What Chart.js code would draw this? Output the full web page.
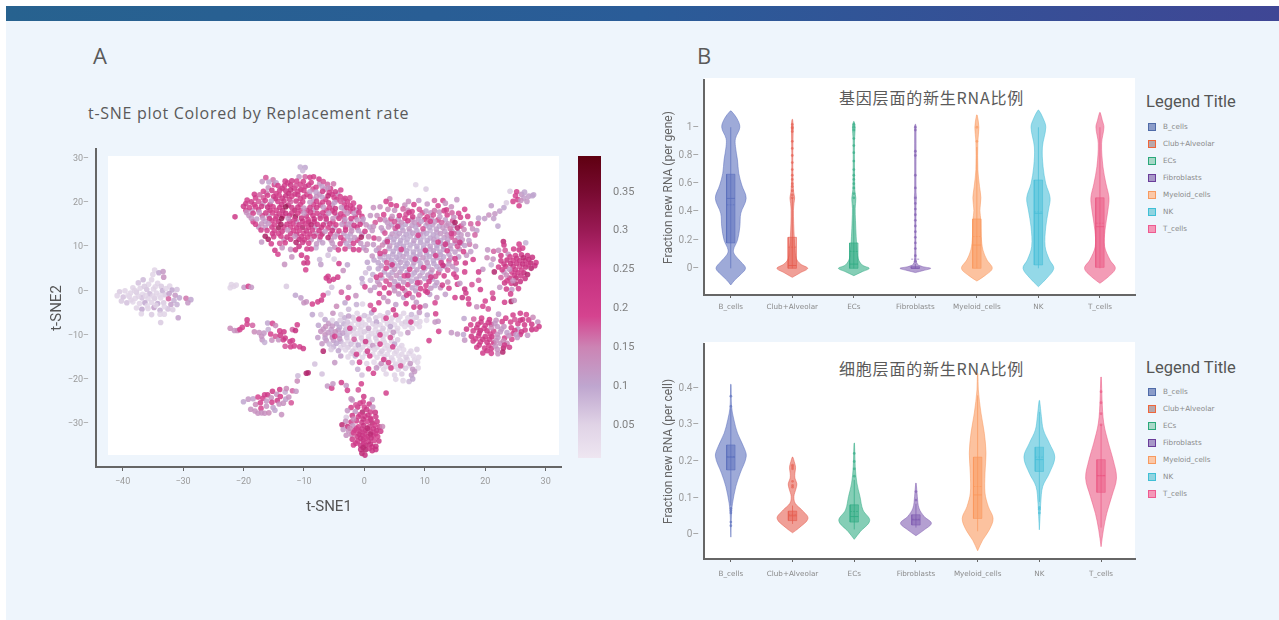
<!DOCTYPE html>
<html>
<head>
<meta charset="utf-8">
<title>Replacement rate</title>
<script src="https://cdn.jsdelivr.net/npm/chart.js@4/dist/chart.umd.min.js"></script>
<style>
    html, body { margin: 0; padding: 0; background: #fff; }
    #page { position: relative; width: 1279px; height: 620px; overflow: hidden; font-family: "Open Sans", sans-serif; }
    #panel { position: absolute; left: 6px; top: 21px; width: 1273px; height: 599px; background: #eef5fc; }
    #topbar { position: absolute; left: 6px; top: 6px; width: 1273px; height: 15px; background: linear-gradient(90deg, #27628f, #2a5c98 50%, #3f4695); }
    .white { position: absolute; background: #fff; }
    .label { position: absolute; white-space: nowrap; color: #5a5a5a; }
    canvas { position: absolute; }
    .legend-title { font: 16.5px "Roboto", sans-serif; color: #555; }
    .legend-box { position: absolute; width: 6px; height: 6px; border-width: 1px; border-style: solid; }
    .legend-text { font: 7.2px "DejaVu Sans", sans-serif; color: #8a8a8a; }
</style>
</head>
<body>
<div id="page">
    <div id="topbar"></div>
    <div id="panel"></div>
    <div class="white" style="left:108px;top:156px;width:451px;height:299px"></div>
    <div class="white" style="left:704px;top:78px;width:431px;height:217px"></div>
    <div class="white" style="left:704px;top:342px;width:431px;height:217px"></div>

    <div class="label" style="left:93px;top:40px;font-size:22px">A</div>
    <div class="label" style="left:697px;top:40px;font-size:22px">B</div>
    <div class="label" style="left:88px;top:102px;font-size:16px;letter-spacing:.7px">t-SNE plot Colored by Replacement rate</div>
    <div class="label" style="left:839px;top:85px;font:16px 'Noto Sans CJK SC',sans-serif;letter-spacing:.8px">基因层面的新生RNA比例</div>
    <div class="label" style="left:839px;top:356px;font:16px 'Noto Sans CJK SC',sans-serif;letter-spacing:.8px">细胞层面的新生RNA比例</div>

    <canvas id="scatter" width="514" height="376" style="left:48px;top:140px"></canvas>
    <canvas id="colorbar" width="70" height="302" style="left:578px;top:156px"></canvas>
    <canvas id="geneViolin" width="474" height="240" style="left:662px;top:72px"></canvas>
    <canvas id="cellViolin" width="474" height="243" style="left:662px;top:338px"></canvas>
</div>

<script>
// ---- panel B data ----
const categories = ['B_cells', 'Club+Alveolar', 'ECs', 'Fibroblasts', 'Myeloid_cells', 'NK', 'T_cells'];
const violinRgb = ['88,108,188', '230,90,75', '45,170,130', '125,90,175', '250,150,90', '70,190,215', '235,85,130'];
const legendStroke = ['#4f6ba8', '#f0653a', '#2aa87a', '#6a3d9a', '#f79a60', '#3fbfd6', '#ee5a90'];
const legendFill = ['#8b9cc9', '#b8a8ac', '#a8d8c8', '#a898c8', '#fbc8a8', '#90d4e0', '#f498b8'];

// per gene
const geneViolinY = [
    [-0.118, -0.083, -0.047, 0, 0.047, 0.095, 0.13, 0.2, 0.295, 0.39, 0.496, 0.59, 0.674, 0.768, 0.863, 0.92, 1.0, 1.064, 1.115],
    [-0.064, -0.03, 0, 0.03, 0.07, 0.15, 0.21, 0.32, 0.41, 0.46, 0.5, 0.54, 0.63, 0.82, 1.0, 1.055],
    [-0.052, -0.024, 0, 0.024, 0.07, 0.155, 0.225, 0.34, 0.425, 0.496, 0.555, 0.7, 0.91, 1.0, 1.04],
    [-0.03, -0.015, 0, 0.012, 0.03, 0.08, 0.46, 0.5, 0.54, 1.0, 1.02],
    [-0.09, -0.05, 0, 0.06, 0.13, 0.225, 0.34, 0.41, 0.5, 0.58, 0.7, 0.9, 1.0, 1.087],
    [-0.13, -0.07, 0, 0.06, 0.155, 0.295, 0.414, 0.5, 0.6, 0.72, 0.86, 1.0, 1.064, 1.12],
    [-0.106, -0.06, 0, 0.06, 0.155, 0.27, 0.414, 0.5, 0.6, 0.72, 0.886, 1.0, 1.05, 1.104]
];
const geneViolinW = [
    [0, 0.065, 0.152, 0.24, 0.163, 0.065, 0.043, 0.109, 0.147, 0.163, 0.25, 0.179, 0.13, 0.109, 0.076, 0.076, 0.147, 0.098, 0.008],
    [0, 0.136, 0.25, 0.136, 0.065, 0.043, 0.033, 0.022, 0.019, 0.027, 0.038, 0.022, 0.011, 0.008, 0.014, 0.005],
    [0, 0.136, 0.25, 0.136, 0.071, 0.049, 0.038, 0.027, 0.022, 0.033, 0.016, 0.011, 0.011, 0.022, 0.005],
    [0, 0.136, 0.25, 0.12, 0.033, 0.011, 0.011, 0.016, 0.011, 0.011, 0.005],
    [0, 0.136, 0.25, 0.163, 0.098, 0.071, 0.065, 0.049, 0.065, 0.043, 0.016, 0.016, 0.033, 0.005],
    [0, 0.136, 0.25, 0.179, 0.109, 0.12, 0.163, 0.19, 0.12, 0.076, 0.065, 0.12, 0.076, 0.008],
    [0, 0.136, 0.25, 0.163, 0.076, 0.082, 0.13, 0.147, 0.098, 0.049, 0.027, 0.065, 0.038, 0.005]
];
const geneQ1 = [0.18, 0, 0, 0, 0, 0.024, 0.007];
const geneQ3 = [0.667, 0.22, 0.18, 0.012, 0.35, 0.626, 0.5];
const geneMedian = [0.496, 0.02, 0.03, 0, 0.165, 0.39, 0.295];
const geneMean = [0.45, 0.15, 0.12, 0.065, 0.225, 0.4, 0.32];
const geneWhiskerLow = [0, 0, 0, 0, 0, 0, 0];
const geneWhiskerHigh = [1, 0.5, 0.45, 0.03, 0.86, 1, 1];
const geneOutliers = [
    [],
    [0.5, 0.52, 0.55, 0.58, 0.6, 0.63, 0.66, 0.7, 0.75, 0.8, 0.85, 0.9, 0.97, 0.99, 1, 1.02],
    [0.5, 0.53, 0.57, 0.6, 0.63, 0.66, 0.7, 0.76, 0.82, 0.87, 0.92, 0.98, 1, 1.02],
    [0.05, 0.09, 0.14, 0.18, 0.22, 0.26, 0.3, 0.34, 0.38, 0.42, 0.46, 0.5, 0.57, 0.66, 0.8, 0.83, 0.98, 1],
    [0.9, 1],
    [],
    []
];

// per cell
const cellViolinY = [
    [-0.006, 0.06, 0.086, 0.132, 0.168, 0.214, 0.241, 0.277, 0.314, 0.35, 0.41],
    [0.006, 0.018, 0.045, 0.068, 0.086, 0.105, 0.125, 0.139, 0.155, 0.168, 0.184, 0.2, 0.212],
    [-0.012, 0.009, 0.039, 0.068, 0.105, 0.141, 0.186, 0.25],
    [-0.002, 0.014, 0.032, 0.05, 0.073, 0.105, 0.141],
    [-0.043, -0.014, 0.014, 0.045, 0.077, 0.114, 0.168, 0.223, 0.277, 0.332, 0.395, 0.44],
    [0.014, 0.05, 0.086, 0.132, 0.168, 0.212, 0.25, 0.286, 0.323, 0.366],
    [-0.032, 0.014, 0.059, 0.105, 0.155, 0.205, 0.25, 0.305, 0.368, 0.43]
];
const cellViolinW = [
    [0, 0.011, 0.027, 0.081, 0.151, 0.25, 0.205, 0.108, 0.049, 0.011, 0.004],
    [0, 0.097, 0.25, 0.151, 0.043, 0.022, 0.054, 0.07, 0.038, 0.038, 0.049, 0.027, 0.004],
    [0, 0.097, 0.25, 0.141, 0.092, 0.043, 0.016, 0.004],
    [0, 0.135, 0.25, 0.135, 0.049, 0.022, 0.004],
    [0, 0.081, 0.189, 0.25, 0.173, 0.119, 0.119, 0.135, 0.108, 0.054, 0.011, 0.004],
    [0, 0.011, 0.022, 0.054, 0.162, 0.25, 0.162, 0.065, 0.032, 0.004],
    [0, 0.038, 0.092, 0.173, 0.25, 0.195, 0.119, 0.043, 0.016, 0.004]
];
const cellQ1 = [0.177, 0.039, 0.035, 0.027, 0.045, 0.173, 0.116];
const cellQ3 = [0.245, 0.065, 0.082, 0.055, 0.212, 0.239, 0.205];
const cellMedian = [0.212, 0.052, 0.05, 0.041, 0.109, 0.205, 0.161];
const cellMean = [0.213, 0.055, 0.064, 0.043, 0.132, 0.212, 0.162];
const cellWhiskerLow = [0.08, 0.03, 0.015, 0.02, 0.01, 0.09, 0.02];
const cellWhiskerHigh = [0.345, 0.08, 0.15, 0.085, 0.38, 0.335, 0.3];
const cellOutliers = [
    [0.025, 0.035, 0.06, 0.066, 0.072, 0.35, 0.378],
    [0.13, 0.135, 0.146, 0.18, 0.185, 0.19],
    [0.16, 0.18, 0.2, 0.222],
    [0.095, 0.118],
    [],
    [0.06, 0.07, 0.075],
    [0.3, 0.33, 0.36, 0.39]
];

// ---- panel A colour scale ----
const colorStops = [0.0075, 0.05, 0.1, 0.15, 0.19, 0.25, 0.3, 0.35, 0.396];
const colorValues = ['#eee6f1', '#e0d3e6', '#bfa6cf', '#cc84b4', '#d5438f', '#c42f7e', '#9a1a55', '#780a30', '#5f0011'];
const colorbarTop = 0.396;
const colorbarBottom = 0.0075;

// ---- panel A points, [t-SNE1, t-SNE2, rate], read cluster by cluster ----
const leftCluster = [[-34.7,4.8,.05],[-34,4.2,.1],[-33.3,4.5,.12],[-35,3.8,.05],[-33.2,3.2,.13],[-36.6,2.6,.08],[-37.4,1.9,.07],[-35.7,1.6,.05],[-34.2,1.8,.05],[-33.6,1.1,.06],[-32.2,1.2,.05],[-38.3,.8,.05],[-37.1,.7,.05],[-36,.4,.07],[-34.9,.5,.05],[-33.4,.1,.09],[-31.8,.3,.1],[-31,.4,.07],[-40.5,-.1,.06],[-39.6,.1,.05],[-38.7,-.4,.05],[-37.7,-.2,.06],[-36.7,-.7,.04],[-35.5,-.6,.08],[-34.4,-.4,.05],[-33,-.8,.06],[-32.3,-.5,.11],[-31.3,-.9,.12],[-29.5,-1.6,.16],[-28.7,-1.9,.1],[-29.2,-2.6,.12],[-40.9,-1,.05],[-39.9,-1.3,.07],[-38.9,-1.2,.05],[-37.9,-1.6,.05],[-36.8,-1.5,.07],[-35.8,-1.7,.05],[-34.7,-1.6,.06],[-33.7,-1.5,.05],[-32.4,-1.7,.17],[-31.5,-2.1,.09],[-30.6,-1.5,.1],[-40.2,-2.2,.06],[-39.3,-2.6,.07],[-38.3,-2.4,.04],[-37.2,-2.8,.05],[-36.3,-2.6,.1],[-35.2,-2.5,.05],[-34.2,-2.8,.1],[-33.2,-2.6,.06],[-32,-3,.11],[-31,-3,.09],[-37.7,-3.8,.05],[-36.8,-4.1,.1],[-35.8,-3.9,.05],[-34.8,-3.7,.11],[-33.8,-4.3,.09],[-32.5,-4,.07],[-31.7,-4.2,.06],[-36.9,-5.1,.05],[-35.2,-5.3,.06],[-33.8,-5.2,.05],[-33.1,-5.2,.05],[-30.8,-6,.11],[-33.7,-7.1,.06],[-38,.2,.05],[-36.2,-1,.05],[-35,-1.1,.05],[-33.9,-.9,.04],[-37.4,-1.1,.05],[-38.6,-2,.05],[-35.9,-3.3,.04],[-34.5,-3.2,.05],[-33.1,-3.5,.05],[-36.4,1.1,.06],[-32.8,.6,.05],[-39.1,-.9,.04],[-35.2,2.6,.05],[-34.6,1,.05]];

const topCluster = [[-10.6,28.2,.09],[-9.8,28.1,.1],[-10.2,27.4,.08],[-10.8,26,.12],[-9.8,26,.17],[-9,25.9,.2],[-8.4,26,.2],[-7.5,25.5,.21],[-16.3,25.8,.18],[-15.1,25.3,.16],[-14.6,24.6,.11],[-16.9,24.9,.12],[-15.8,24.8,.1],[-13.1,25,.21],[-12,25.1,.22],[-11.2,25,.2],[-10.1,24.9,.2],[-8.8,24.7,.2],[-6.8,24.9,.18],[-6.1,24.3,.17],[-5.1,24.4,.16],[-14.3,24,.2],[-13.2,24,.21],[-12.2,24.1,.23],[-11.3,24,.18],[-9.8,23.8,.22],[-8,23.6,.2],[-7,23.8,.11],[-6,23.5,.13],[-15.9,23.5,.13],[-16.7,22.7,.19],[-15.3,22.9,.22],[-14,22.9,.21],[-13,22.8,.23],[-12.2,23,.25],[-11,22.7,.2],[-10,22.9,.2],[-9,22.6,.12],[-8,22.5,.11],[-6.9,22.7,.21],[-5.8,22.4,.2],[-4.8,22.6,.21],[-3.9,23,.19],[-18.2,22,.21],[-17.3,21.9,.17],[-16,21.8,.2],[-15,21.5,.22],[-14.1,21.8,.2],[-13,21.7,.24],[-12,21.6,.2],[-11,21.9,.22],[-10,21.4,.22],[-9,21.5,.2],[-7.9,21.5,.13],[-7,21.4,.11],[-6,21.7,.26],[-5,21.3,.2],[-4,21.5,.19],[-3.2,21.1,.2],[-19.4,20.7,.2],[-18.7,20.3,.22],[-17.5,20.4,.18],[-16.4,20.6,.2],[-15.4,20.5,.12],[-14.3,20.4,.21],[-13.3,20.5,.22],[-12.2,20.3,.17],[-11.3,20.5,.22],[-10.2,20.3,.2],[-9,20.2,.12],[-7.9,20.4,.21],[-6.9,20.2,.2],[-5.9,20.1,.21],[-4.9,20.2,.11],[-3.9,20.4,.18],[-2.8,20.3,.2],[-1.8,20,.19],[-20,19.3,.22],[-19,19,.2],[-18,19.2,.2],[-17,19.3,.22],[-16,19.1,.24],[-15.1,19.2,.2],[-14,19,.23],[-13,19.2,.3],[-12,19,.22],[-11,19.1,.22],[-10,18.9,.13],[-9,19,.21],[-7.9,19,.22],[-6.8,19.1,.12],[-5.8,19,.2],[-4.8,18.8,.24],[-3.8,19,.12],[-2.9,19,.22],[-1.9,18.8,.21],[-.8,19.1,.2],[-21.4,16.9,.22],[-19.5,17.9,.13],[-18.4,17.7,.2],[-17.4,17.9,.12],[-16.3,17.8,.22],[-15.2,17.8,.2],[-14.1,17.6,.22],[-13,17.7,.24],[-12,17.8,.21],[-11,17.7,.2],[-10,17.7,.12],[-8.9,17.9,.22],[-7.8,17.7,.2],[-6.9,17.8,.21],[-5.9,17.7,.12],[-4.9,17.8,.22],[-3.9,17.6,.2],[-2.8,17.7,.13],[-1.7,17.7,.12],[-.9,17.9,.21],[-18.7,16.6,.13],[-17.8,16.4,.11],[-16.8,16.6,.12],[-15.7,16.5,.22],[-14.7,16.4,.2],[-13.7,16.5,.3],[-12.6,16.5,.13],[-11.5,16.4,.22],[-10.4,16.6,.24],[-9.3,16.3,.2],[-8.3,16.4,.24],[-7.3,16.6,.22],[-6.3,16.4,.21],[-5.2,16.5,.13],[-4.2,16.6,.21],[-3.2,16.3,.11],[-2.2,16.5,.2],[-1.2,16.2,.12],[-.2,16.4,.11],[-18,15.2,.2],[-17,15.3,.13],[-15.9,15.4,.12],[-14.9,15.1,.2],[-13.8,15.2,.28],[-12.8,15.2,.22],[-11.8,15.3,.2],[-10.8,15.1,.22],[-9.8,15.3,.2],[-8.8,15.1,.26],[-7.8,15.2,.22],[-6.8,15.1,.23],[-5.7,15.3,.22],[-4.7,15.1,.2],[-3.7,15.2,.12],[-2.7,15.2,.12],[-1.7,15,.22],[-.7,15.2,.22],[.3,15.1,.13],[-17.1,13.9,.21],[-16.1,13.8,.2],[-14.9,13.7,.2],[-13.6,13.6,.22],[-12.7,13.9,.13],[-11.7,13.8,.2],[-10.7,13.8,.2],[-9.6,13.7,.22],[-8.6,13.9,.21],[-7.5,13.8,.22],[-6.5,13.6,.12],[-5.3,13.8,.25],[-4.2,13.7,.2],[-3.1,13.9,.22],[-2.1,13.7,.13],[-1,13.8,.11],[.1,13.6,.21],[1.3,13.8,.12],[-16.4,12.5,.28],[-15.9,11.8,.28],[-15,12.4,.21],[-13.8,12.5,.2],[-12.8,12.3,.22],[-11.5,12.5,.13],[-10.4,12.4,.21],[-9.4,12.3,.2],[-8.3,12.5,.22],[-7.3,12.4,.2],[-6,12.2,.26],[-4.9,12.4,.12],[-3.9,12.2,.2],[-2.8,12.4,.1],[-1.6,12.2,.12],[-.5,12.3,.28],[.7,12.4,.14],[-17,11.2,.12],[-15.4,10.8,.2],[-14,10.9,.18],[-13.1,11,.2],[-11.3,11.1,.27],[-10.2,11.1,.22],[-9.2,10.9,.2],[-7.9,10.8,.12],[-6.9,11,.11],[-5.3,10.9,.12],[-4,10.8,.2],[-3,10.9,.1],[-1.8,10.9,.2],[-.6,10.9,.12],[.5,10.7,.13],[-14.8,9.3,.22],[-14.3,8.4,.19],[-12.2,9.5,.13],[-11.4,9.4,.22],[-9.5,9.6,.2],[-8.8,9.6,.21],[-5.7,9.5,.11],[-4.3,9.4,.2],[-3.2,9.6,.2],[-1.8,9.5,.21],[-.9,9.4,.2],[-12,7.8,.13],[-10.4,8.2,.21],[-9.5,7.6,.21],[-13.2,6.1,.13],[-10,6.4,.22],[-9.4,6.5,.22],[-9.7,4.9,.19],[-7.4,7.2,.08],[-6,8.2,.07],[-5,7.3,.06],[-7.2,6.1,.11],[-4.2,6.3,.21]];

const topFill = [[-14.9,24.2,.2],[-12.7,24.6,.2],[-10.6,24.3,.19],[-9.2,24.1,.22],[-7.4,24.4,.13],[-5.6,23.3,.2],[-13.6,23.4,.24],[-11.6,23.4,.21],[-10.5,23.1,.24],[-8.5,23.2,.18],[-6.5,23.2,.13],[-16.2,22.3,.14],[-14.6,22.2,.2],[-12.5,22.2,.25],[-11.5,22.1,.22],[-9.5,22,.2],[-7.4,22,.13],[-5.3,22,.21],[-4.4,22.1,.13],[-18,21.2,.2],[-16.7,21.2,.18],[-14.7,21,.25],[-13.6,21.1,.22],[-12.4,20.9,.22],[-10.6,21,.2],[-8.4,20.9,.12],[-6.4,20.9,.2],[-4.6,20.8,.22],[-3.4,20.7,.13],[-2.4,21.2,.18],[-19.6,19.9,.22],[-18.2,19.7,.2],[-16.8,19.9,.13],[-15.6,19.7,.22],[-13.7,19.7,.21],[-12.6,19.6,.24],[-10.6,19.7,.2],[-8.4,19.7,.2],[-7.3,19.6,.22],[-5.3,19.6,.13],[-3.3,19.6,.2],[-2.3,19.4,.2],[-19.6,18.4,.21],[-18.6,18.3,.12],[-17.5,18.5,.22],[-15.6,18.4,.23],[-14.6,18.4,.2],[-13.5,18.3,.25],[-11.5,18.4,.26],[-10.5,18.3,.2],[-9.5,18.3,.22],[-8.4,18.5,.13],[-6.3,18.4,.21],[-5.3,18.3,.22],[-3.3,18.3,.13],[-2.3,18.2,.19],[-1.3,18.4,.13],[-19.1,17.2,.13],[-16.9,17.2,.2],[-15.8,17.1,.12],[-14.6,17,.22],[-13.5,17.1,.22],[-12.4,17.2,.24],[-11.4,17,.3],[-9.6,17.1,.22],[-8.5,17.2,.21],[-7.3,17.1,.13],[-6.4,17,.22],[-4.5,17.1,.12],[-3.4,17,.2],[-.4,17,.2],[-1.5,16.9,.22],[-18.4,15.8,.2],[-16.4,15.9,.11],[-15.3,16,.2],[-14.2,15.8,.24],[-12.3,15.9,.22],[-11.2,15.8,.13],[-10.2,15.9,.22],[-9.2,15.7,.26],[-8.3,15.8,.22],[-6.3,15.8,.13],[-5.2,15.8,.2],[-3.3,15.8,.2],[-2.2,15.7,.11],[-.3,15.8,.12],[-17.5,14.6,.13],[-16.4,14.5,.12],[-15.3,14.6,.22],[-14.2,14.4,.29],[-13.3,14.5,.2],[-12.2,14.6,.2],[-11.2,14.4,.22],[-10.2,14.5,.27],[-9.2,14.5,.2],[-8.2,14.6,.12],[-7.1,14.5,.22],[-6,14.4,.2],[-5,14.5,.11],[-3.1,14.6,.2],[-2.1,14.4,.12],[-1.2,14.5,.2],[.9,14.6,.11],[-15.2,13.1,.21],[-14.2,13.1,.2],[-12.2,13.1,.22],[-11.2,13,.24],[-10,13.1,.19],[-9,13,.22],[-8,13.1,.14],[-7,13,.26],[-5.6,13,.2],[-4.5,13,.13],[-3.4,13.1,.12],[-2.3,13,.11],[-.4,13,.12],[-13.3,11.7,.14],[-12.2,11.8,.21],[-10.8,11.8,.25],[-9.9,11.7,.21],[-8.8,11.7,.13],[-7.4,11.7,.11],[-5.5,11.6,.13],[-3.4,11.6,.18],[-2.3,11.6,.11],[-1.1,11.6,.2],[-13.6,9.9,.13],[-10.8,10.2,.24],[-8,9.9,.09],[-4.9,10,.13],[-2.5,10.2,.12],[-.1,9.9,.11]];

const centerCluster = [[8.5,24.2,.05],[10.2,23.2,.06],[4.2,21,.14],[3.6,20.4,.2],[5.3,19.4,.2],[1.5,19,.13],[2.6,19.2,.13],[7.3,20.4,.13],[9,20.6,.11],[11.6,20.6,.17],[13,20.6,.19],[13.4,20,.13],[15.3,20.8,.12],[3.9,18.6,.14],[5,18.4,.13],[6.4,18.7,.17],[7.9,18.1,.19],[9.1,18.6,.18],[10.2,18.2,.12],[11.6,18.3,.16],[12.4,18,.13],[13.2,18.3,.21],[14.5,17.8,.17],[16.6,18.6,.19],[17.1,17,.2],[1,17.2,.12],[2.1,17.2,.13],[3.2,17.4,.19],[4.6,17,.13],[5.8,17.2,.21],[6.9,17.5,.18],[8,16.9,.22],[9.2,17.2,.13],[10.4,16.9,.2],[11.4,17.3,.18],[12.5,16.9,.12],[13.7,17.3,.2],[14.8,16.8,.13],[15.9,16.8,.2],[2.6,16.3,.17],[3.8,15.6,.12],[5,15.8,.18],[6.1,15.6,.13],[7.2,16,.21],[8.3,15.6,.12],[9.4,15.9,.1],[10.5,15.5,.14],[11.6,15.8,.12],[12.8,15.6,.17],[13.9,15.3,.13],[15,15.6,.28],[16.4,15.4,.12],[17.6,15.3,.17],[1.5,14.7,.13],[2.8,14.4,.12],[4,14.6,.12],[5.1,14.3,.17],[6.2,14.5,.1],[7.4,14.2,.12],[8.5,14.6,.1],[9.7,14.2,.18],[10.8,14.5,.1],[11.9,14.1,.11],[13,14.4,.12],[14.2,14.2,.16],[15.4,14.4,.26],[16.5,14,.14],[17.9,14.2,.13],[18.6,13.8,.11],[3.4,13.2,.18],[4.6,13,.12],[5.8,13.1,.11],[6.9,12.9,.1],[8,13.2,.11],[9.2,12.9,.12],[10.3,13.1,.1],[11.4,12.8,.1],[12.6,13.1,.12],[13.7,12.8,.12],[14.8,13.1,.17],[16,12.8,.12],[17.1,12.9,.12],[18.3,12.8,.17],[2.4,11.9,.14],[3.8,11.7,.12],[4.9,11.8,.1],[6,11.5,.1],[7.1,11.8,.09],[8.2,11.5,.11],[9.3,11.7,.09],[10.4,11.5,.1],[11.5,11.8,.11],[12.6,11.5,.1],[13.8,11.7,.11],[15,11.5,.17],[16.2,11.7,.12],[17.3,11.5,.11],[1.5,10.6,.12],[3,10.5,.15],[4.2,10.3,.12],[5.4,10.5,.1],[6.5,10.2,.1],[7.6,10.5,.09],[8.7,10.2,.1],[9.8,10.5,.09],[10.9,10.2,.11],[12,10.4,.1],[13.1,10.2,.12],[14.2,10.4,.12],[15.4,10.2,.18],[16.6,10.4,.11],[18.4,10.2,.12],[.3,9.3,.13],[2,9.3,.11],[3.4,9,.18],[4.8,9.1,.1],[5.9,8.9,.09],[7,9.2,.1],[8.1,8.9,.1],[9.2,9.1,.09],[10.3,8.9,.1],[11.4,9.2,.11],[12.5,8.9,.1],[13.7,9.2,.2],[15,8.9,.11],[16.4,9,.2],[17.6,9,.11],[1.3,8,.12],[2.6,7.8,.11],[4,7.8,.1],[5.3,7.7,.1],[6.4,7.9,.11],[7.5,7.6,.09],[8.6,7.8,.1],[9.7,7.6,.12],[10.8,7.9,.1],[12,7.6,.11],[13.1,7.8,.1],[14.3,7.6,.12],[15.6,7.8,.11],[.5,6.6,.1],[2.3,6.5,.1],[3.7,6.5,.18],[4.9,6.4,.09],[6,6.6,.11],[7.1,6.3,.1],[8.2,6.5,.12],[9.3,6.3,.09],[10.4,6.5,.12],[11.5,6.3,.1],[12.7,6.5,.2],[14,6.2,.12],[15.2,6.4,.18],[16.7,6.4,.22],[18,7.2,.2],[.8,5.2,.09],[2.3,5.1,.1],[3.6,5.2,.2],[5,5,.12],[6.2,5.1,.1],[7.5,5,.2],[8.7,4.9,.11],[10,5.1,.1],[11.2,4.9,.13],[12.5,5,.11],[13.8,4.8,.17],[15.2,4.9,.11],[16.6,4.4,.2],[1.4,3.8,.09],[2.7,3.7,.18],[4,3.7,.11],[5.3,3.6,.13],[6.6,3.5,.19],[7.9,3.7,.09],[9.2,3.5,.11],[10.5,3.7,.12],[11.8,3.4,.18],[13.2,3.5,.2],[15.2,3.2,.2],[-.4,2.9,.1],[1,2.5,.08],[2.2,2.2,.12],[3.6,2.3,.18],[5,2.2,.11],[6.5,2.1,.12],[7.8,2.3,.1],[9.2,2,.17],[10.7,2.2,.22],[12,2,.11],[13.8,2.1,.14],[.1,1,.2],[1.7,.9,.11],[3.3,.8,.2],[4.9,.9,.12],[6.3,.7,.2],[7.9,.8,.11],[9.3,.6,.2],[11,.7,.12],[12.6,.8,.13],[14,.7,.2],[15.4,1.6,.2],[2.5,-.5,.2],[4.1,-.4,.22],[5.7,-.6,.12],[7.4,-.5,.2],[9,-.8,.19],[10.8,-.7,.11],[13.4,-.7,.11],[16.8,-.4,.21],[17.2,-1.7,.2]];

const centerFill = [[4.4,19.7,.2],[6.7,19.6,.13],[8.2,19.7,.2],[10.4,19.8,.12],[12.2,19.4,.2],[14.4,19.2,.13],[7.2,18.4,.14],[9.6,17.8,.19],[11,17.8,.12],[13.6,18.5,.2],[15.6,17.7,.19],[3.4,16.2,.12],[4.4,16.4,.2],[5.6,16.3,.11],[6.7,16.6,.19],[7.9,16.2,.13],[8.9,16.4,.12],[10,16.3,.21],[11.1,16.5,.12],[12.2,16.2,.2],[13.4,16.2,.11],[14.6,16,.18],[1.8,15.6,.18],[4.5,15.1,.11],[5.7,15,.12],[6.8,15.2,.1],[7.9,15,.11],[9,15.2,.17],[10.2,14.9,.1],[11.3,15.1,.11],[12.4,14.8,.1],[13.6,14.9,.13],[14.8,14.9,.12],[16,14.8,.2],[3.1,13.7,.11],[5.2,13.6,.1],[6.4,13.8,.11],[7.5,13.6,.09],[8.7,13.7,.1],[9.8,13.5,.11],[10.9,13.8,.09],[12,13.4,.11],[13.3,13.6,.11],[14.5,13.6,.11],[15.5,13.4,.12],[4.3,12.3,.1],[5.4,12.5,.11],[6.5,12.2,.09],[7.6,12.5,.09],[8.7,12.3,.1],[9.8,12.4,.08],[10.9,12.1,.1],[12,12.4,.09],[13.2,12.2,.11],[14.4,12.3,.18],[15.5,12.1,.11],[1.6,12.1,.2],[3.4,11.1,.1],[4.8,11.1,.09],[5.9,10.9,.1],[7,11.1,.09],[8.1,10.9,.09],[9.3,11.1,.1],[10.4,10.9,.08],[11.5,11.1,.1],[12.6,10.9,.09],[13.7,11,.13],[15,10.9,.11],[16,10.9,.12],[17.4,10.7,.16],[2.4,9.8,.14],[4.1,9.7,.09],[5.3,9.8,.1],[6.4,9.6,.09],[7.5,9.8,.08],[8.7,9.6,.09],[9.8,9.8,.1],[10.9,9.6,.09],[12,9.8,.1],[13.1,9.5,.11],[14.3,9.6,.11],[15.7,9.6,.13],[3.3,8.4,.11],[4.7,8.4,.1],[5.8,8.3,.09],[7,8.5,.1],[8.1,8.3,.09],[9.2,8.4,.11],[10.3,8.3,.09],[11.5,8.5,.1],[12.6,8.3,.11],[14,8.4,.11],[16.9,8.2,.12],[1.6,7.1,.1],[3.3,7.1,.1],[4.5,7.1,.1],[5.7,7.2,.09],[6.8,7,.09],[7.9,7.2,.1],[9,7,.1],[10.2,7.1,.09],[11.4,7,.1],[12.7,7,.11],[14,7,.18],[2.8,5.8,.11],[4.3,5.7,.11],[5.6,5.8,.09],[6.8,5.7,.1],[8,5.7,.09],[9.3,5.7,.11],[10.6,5.7,.09],[12,5.6,.1],[13.3,5.6,.12],[14.6,5.6,.12],[3.3,4.4,.1],[4.6,4.3,.1],[5.9,4.3,.12],[7.1,4.3,.1],[8.3,4.2,.1],[9.6,4.3,.09],[11,4.2,.1],[12.3,4.2,.18],[.2,4.2,.07],[2.9,3,.09],[4.4,3,.13],[5.9,2.9,.1],[7.2,3,.09],[8.6,2.8,.11],[10,2.9,.1],[11.3,2.8,.1],[-.3,1.8,.08],[2.5,1.5,.14],[4.2,1.5,.18],[5.6,1.5,.1],[7.2,1.5,.19],[8.6,1.4,.09],[10.2,1.3,.19],[11.7,1.3,.1],[1,.2,.12],[5,.1,.13],[6.7,.1,.14],[8.5,.1,.11],[10.1,.1,.2],[3.2,-1.4,.13],[6.5,-1.4,.1],[8,-1.4,.12],[12,-1.4,.13],[15,-1.4,.2]];

const paleCluster = [[-4.6,-3.4,.14],[-3.2,-2.6,.1],[-2.6,-4.1,.08],[-1.3,-3,.09],[-.3,-2.9,.05],[1,-3.2,.18],[2.4,-2.6,.2],[3.9,-2.3,.13],[5.2,-3,.11],[6.9,-2.8,.2],[8.6,-2.5,.12],[10.1,-3.3,.12],[11.7,-2.6,.19],[-5.2,-5,.13],[-3.9,-5.3,.06],[-2.6,-5.6,.11],[-1.2,-5,.05],[0,-5.5,.07],[1.2,-4.9,.1],[2.6,-5.5,.05],[3.9,-4.9,.07],[5.2,-5.4,.2],[6.5,-5,.05],[7.8,-5.3,.08],[9.1,-4.8,.12],[10.4,-5.4,.09],[11.8,-5.1,.2],[-6.5,-6.4,.1],[-5.3,-6.6,.05],[-4,-6.6,.06],[-2.8,-7,.07],[-1.6,-6.6,.05],[-.4,-7,.05],[.8,-6.5,.06],[2,-7,.1],[3.2,-6.5,.05],[4.4,-7,.05],[5.6,-6.5,.04],[6.8,-7,.06],[8,-6.5,.05],[9.2,-6.9,.05],[10.3,-6.6,.04],[11.7,-7,.12],[-7.6,-7.7,.1],[-6.4,-8,.13],[-5.3,-7.9,.12],[-4.1,-8.2,.1],[-2.9,-7.9,.06],[-1.7,-8.4,.06],[-.5,-8,.05],[.7,-8.4,.12],[1.9,-7.9,.05],[3.1,-8.4,.06],[4.3,-8,.1],[5.5,-8.4,.05],[6.7,-8,.04],[7.9,-8.4,.05],[9.1,-8,.04],[-7.2,-9.1,.13],[-6,-9.4,.12],[-4.8,-9.2,.13],[-3.6,-9.5,.11],[-2.4,-9.2,.06],[-1.2,-9.6,.05],[0,-9.2,.06],[1.2,-9.6,.05],[2.4,-9.3,.06],[3.6,-9.7,.05],[4.8,-9.3,.12],[6,-9.7,.05],[7.2,-9.4,.12],[-7.7,-10.5,.11],[-6.5,-10.6,.11],[-5.3,-10.5,.13],[-4.1,-10.8,.12],[-2.9,-10.5,.07],[-1.7,-10.9,.17],[-.5,-10.6,.06],[.7,-10.9,.05],[1.9,-10.6,.06],[3.1,-11,.05],[4.3,-10.5,.18],[5.5,-11,.06],[-7,-11.9,.12],[-5.8,-12,.08],[-4.6,-11.8,.1],[-3.4,-12.1,.06],[-2.2,-12,.07],[-1,-12.2,.1],[.2,-12,.05],[1.4,-12.3,.12],[2.6,-12,.2],[3.8,-12.3,.05],[5,-12,.1],[6.2,-12.3,.05],[-6.8,-13.6,.27],[-5.5,-13.2,.06],[-4.3,-13.5,.1],[-3.1,-13.3,.05],[-1.9,-13.6,.06],[-.7,-13.3,.05],[.5,-13.6,.21],[1.7,-13.2,.05],[2.9,-13.6,.06],[4.1,-13.3,.05],[5.3,-13.6,.05],[6.5,-13.3,.04],[7.7,-13.6,.05],[8.7,-13.2,.06],[-3.9,-14.7,.11],[-2.7,-14.9,.05],[-1.5,-14.7,.09],[-.3,-15,.05],[.9,-14.7,.2],[2.1,-15,.05],[3.3,-14.8,.05],[4.5,-15.1,.05],[5.7,-14.7,.04],[6.9,-15,.06],[8.1,-14.7,.04],[9,-15,.05],[-4.9,-16.2,.12],[-2,-16.2,.07],[-.8,-16.1,.2],[.4,-16.4,.05],[1.6,-16.1,.04],[2.8,-16.4,.13],[4,-16.2,.2],[5.2,-16.5,.05],[6.4,-16.1,.05],[7.6,-16.4,.12],[8.8,-16.1,.05],[-1.1,-17.7,.09],[.7,-17.6,.2],[2,-17.4,.12],[3.2,-17.7,.05],[4.4,-17.4,.2],[5.6,-17.7,.05],[6.8,-17.5,.06],[8,-17.7,.12],[8.9,-17.4,.05],[-.4,-19,.07],[3.6,-18.8,.05],[5,-19,.05],[6.2,-18.8,.06],[7.8,-19,.11],[8.3,-18.2,.12],[5.2,-20,.05],[6.4,-20.3,.05],[7.4,-20.5,.08],[8,-19.9,.1]];

const paleFill = [[-3.3,-6,.09],[-1.9,-5.9,.06],[-.7,-6,.05],[.6,-5.8,.05],[1.9,-6,.06],[3.2,-5.8,.05],[4.6,-6,.05],[5.9,-5.8,.05],[7.2,-6,.05],[8.6,-5.9,.06],[-5.9,-7.3,.12],[-4.6,-7.4,.1],[-3.4,-7.4,.09],[-2.2,-7.5,.05],[-1,-7.5,.05],[.2,-7.6,.05],[1.4,-7.4,.05],[2.6,-7.6,.05],[3.8,-7.4,.05],[5,-7.6,.04],[6.2,-7.4,.05],[7.4,-7.6,.05],[8.6,-7.4,.05],[-6.8,-8.6,.12],[-5.5,-8.7,.11],[-4.3,-8.8,.12],[-3.1,-8.7,.08],[-1.9,-8.9,.05],[-.7,-8.7,.05],[.6,-8.9,.05],[1.8,-8.8,.04],[3,-8.9,.05],[4.2,-8.8,.05],[5.4,-9,.05],[-6.5,-9.9,.13],[-5.3,-9.9,.12],[-4.1,-10,.1],[-2.9,-9.9,.08],[-1.7,-10.1,.05],[-.5,-9.9,.05],[.7,-10.2,.05],[1.9,-10,.04],[3.1,-10.2,.05],[4.6,-10.1,.05],[-6.3,-11.2,.12],[-5.1,-11.2,.11],[-3.9,-11.4,.09],[-2.7,-11.3,.05],[-1.5,-11.5,.05],[-.3,-11.3,.04],[.9,-11.6,.05],[2.1,-11.4,.05],[3.3,-11.6,.05],[4.5,-11.3,.05],[-5.1,-12.6,.09],[-3.9,-12.8,.05],[-2.7,-12.7,.06],[-1.5,-12.9,.05],[-.3,-12.7,.05],[.9,-12.9,.05],[2.1,-12.7,.05],[3.4,-12.9,.04],[4.6,-12.7,.05],[5.8,-12.9,.04],[-2.2,-14.1,.05],[-1,-14.2,.04],[.2,-14.1,.05],[1.4,-14.3,.04],[2.6,-14.1,.05],[3.8,-14.3,.04],[5,-14.1,.04],[6.2,-14.3,.05],[7.4,-14.1,.04],[3.4,-15.6,.05],[4.7,-15.6,.04],[5.9,-15.7,.05],[7.1,-15.5,.04],[8.3,-15.6,.05],[2.4,-16.9,.04],[3.6,-17,.05],[5,-17,.04],[6.2,-17,.05],[7.4,-16.9,.04]];

const tailCluster = [[18.8,15.4,.18],[18.9,16.6,.1],[19.9,16.5,.11],[20.6,17.3,.13],[21.6,17.6,.12],[22.4,18.2,.11],[23.1,19,.1],[22.1,14.8,.1],[21.4,16.5,.11],[21,19.4,.11],[23.5,20.1,.06],[24.1,22.7,.06],[24.6,20.4,.2],[25,21.7,.19],[25.2,22.6,.2],[25.4,20.8,.2],[25.6,19.4,.2],[26,22,.12],[26.4,21.2,.11],[26.9,20.4,.12],[27.2,21.6,.11],[27.8,21.7,.1],[25.9,20.6,.13],[26.5,22.5,.1],[28,21.9,.1]];

const rightCluster = [[23,11.3,.26],[23.1,10.5,.21],[25.6,10.7,.2],[26.7,11,.09],[21.4,9.1,.17],[22.2,9.3,.13],[23.3,9.3,.18],[24.7,9.6,.2],[25.6,9.4,.22],[26.2,9.8,.2],[20.4,9.4,.12],[22.6,8.1,.22],[23.8,8.4,.13],[25,8.1,.2],[26,8.3,.22],[27,8.1,.22],[27.8,7.7,.24],[20.3,7.6,.14],[21.3,7.3,.13],[22.6,6.9,.22],[23.6,7.1,.24],[24.6,7,.2],[25.7,6.9,.22],[26.6,6.9,.23],[27.5,6.4,.26],[28.4,6.5,.22],[21,6,.08],[22.2,5.5,.2],[23.4,5.6,.22],[24.6,5.6,.22],[25.7,5.6,.18],[26.7,5.5,.24],[27.6,5.2,.27],[28.2,5.8,.24],[19.6,5,.12],[21.5,4.4,.27],[23.1,4.4,.12],[24.4,4.4,.2],[25.4,4.2,.22],[26.4,4.2,.25],[27,3.8,.27],[22.6,3.1,.17],[24,3,.22],[25.1,3,.26],[26.6,2.9,.24],[23.2,1.9,.22],[24.3,1.8,.2],[25,1.7,.26],[22.4,.9,.12],[23.5,.5,.21],[24.4,.4,.12],[25.5,.6,.2],[24.2,-.6,.2],[23.2,-2.5,.2],[24.3,-2.3,.28],[24.8,-2.1,.13],[18.9,4.4,.21],[18.9,2.5,.17],[19.2,.4,.21],[15.8,1.8,.12],[17.8,1.5,.18],[16.6,.5,.24],[20,-2.2,.19],[21.2,-.4,.18],[21.3,-1.6,.22],[19.6,-3.4,.19],[20.5,-4,.18],[17.3,-2.9,.21],[18.6,-3.5,.13],[24.1,7.8,.2],[25.2,7.5,.22],[26.3,7.6,.26],[27.2,7.2,.24],[23.1,6.2,.22],[24.2,6.3,.24],[25.2,6.3,.22],[26.2,6.2,.25],[27.1,6,.22],[22.8,4.9,.2],[24,5,.13],[25,4.9,.22],[26,4.8,.2],[23.5,3.7,.14],[24.8,3.6,.22],[25.9,3.5,.22],[23.6,2.4,.2],[24.6,2.4,.13],[25.8,2.2,.24]];

const lowerRight = [[22.2,-5.2,.11],[24.6,-5.4,.2],[25.8,-5,.21],[26.8,-5.3,.19],[23.4,-6.1,.2],[25.8,-6.6,.22],[27.2,-6.5,.2],[27.9,-5.9,.14],[16.5,-6.2,.1],[18.1,-6.3,.17],[19.4,-6.1,.2],[20.7,-6.4,.22],[21.8,-6.6,.13],[22.8,-6.9,.2],[24.2,-7,.19],[25.4,-7.4,.2],[26.5,-7.6,.21],[27.7,-7.5,.22],[28.7,-7,.12],[28.9,-8,.22],[17.6,-7.6,.2],[18.8,-7.5,.22],[20,-7.8,.21],[21,-7.5,.22],[22,-8,.12],[23.1,-8,.13],[24.3,-8.3,.2],[25.4,-8.6,.11],[26.6,-8.8,.2],[27.7,-8.7,.24],[28.4,-8.6,.2],[16.9,-8.6,.22],[18,-9,.2],[19.2,-8.9,.25],[20.3,-9,.22],[21.4,-9.1,.2],[22.5,-9.2,.12],[23.6,-9.4,.11],[24.6,-9.6,.2],[25.8,-9.8,.22],[27,-10,.12],[15.4,-9.7,.12],[16.4,-9.8,.1],[17.7,-10.2,.23],[18.9,-10.1,.2],[20,-10.3,.22],[21.1,-10.3,.24],[22.1,-10.5,.12],[23.2,-10.6,.2],[24.4,-10.9,.19],[25.3,-10.5,.12],[16.6,-11.1,.12],[18,-11.3,.21],[19.2,-11.5,.2],[20.3,-11.6,.22],[21.4,-11.7,.22],[22.5,-11.8,.13],[23.6,-11.8,.14],[18.6,-12.7,.2],[19.9,-12.9,.2],[21,-13,.22],[22,-13.2,.13],[23,-12.9,.26],[24,-12.7,.21],[19.6,-14,.21],[21,-14.1,.2],[22.1,-14.2,.13],[22.9,-13.8,.27],[12.3,-9.1,.2],[12.2,-6.8,.12],[10.7,-11.2,.2],[14.4,-9.4,.12],[19.3,-7,.22],[20.5,-7.1,.21],[21.6,-7.3,.12],[24.9,-6.4,.18],[26.2,-6.4,.22],[18.6,-8.3,.22],[19.8,-8.4,.2],[21,-8.3,.14],[22.7,-8.6,.12],[24.9,-8.9,.2],[26,-9.2,.22],[19,-9.5,.22],[20.8,-9.7,.2],[22,-9.8,.13],[23.9,-10.1,.13],[25.1,-9.8,.11],[18.4,-10.8,.2],[19.6,-10.9,.22],[20.7,-10.9,.21],[21.8,-11.2,.13],[23,-11.3,.14],[19,-12.2,.22],[20.6,-12.3,.2],[21.7,-12.4,.13],[23.2,-12.2,.22],[20.3,-13.5,.22]];

const bottomCluster = [[-.1,-23.9,.22],[1.3,-24.6,.12],[-2,-24.7,.12],[-.7,-25.4,.2],[-.2,-25.1,.2],[.8,-25.6,.22],[1.4,-26.3,.12],[-2.2,-26.4,.2],[-1.1,-26.3,.22],[0,-26.3,.2],[-2.8,-27.1,.12],[-1.5,-27.3,.12],[-.3,-27.4,.27],[1,-27.4,.2],[1.8,-27.5,.23],[-3,-28.6,.06],[-2,-28.2,.22],[-1,-28.5,.2],[.1,-28.4,.2],[1,-28.8,.21],[1.9,-28.5,.22],[-3.1,-29.5,.13],[-2.2,-29.7,.21],[-1.3,-29.4,.21],[-.4,-29.8,.22],[.5,-29.5,.2],[1.3,-29.9,.26],[2.1,-29.6,.22],[-3.7,-30.3,.26],[-2.8,-30.7,.24],[-1.9,-30.5,.13],[-1,-30.8,.2],[-.1,-30.5,.24],[.8,-30.8,.22],[1.7,-30.4,.2],[2.5,-30.8,.22],[3,-30.7,.14],[-3.5,-31.4,.12],[-2.6,-31.7,.13],[-1.6,-31.6,.21],[-.7,-31.9,.22],[.2,-31.6,.24],[1.1,-31.9,.22],[2,-31.6,.24],[2.7,-31.8,.21],[-3,-32.7,.13],[-2.1,-32.6,.14],[-1.2,-33,.22],[-.3,-32.7,.24],[.6,-33,.22],[1.5,-32.7,.22],[2.2,-33,.2],[-2,-33.6,.22],[-1.1,-34,.21],[-.2,-33.8,.24],[.7,-34.1,.22],[1.6,-33.9,.2],[2.4,-34,.22],[-1.8,-34.9,.2],[-.6,-35,.24],[.2,-35,.26],[1.3,-35.3,.22],[1.9,-35.2,.24],[-.6,-35.9,.24],[.2,-36,.27],[1.3,-36.2,.23],[1.9,-35.9,.24],[-.4,-36.8,.26],[.1,-37.2,.25],[-1.4,-25.8,.18],[.4,-26.8,.22],[-.7,-28,.21],[.6,-28.1,.22],[-1.8,-29,.14],[-.2,-29,.24],[1.1,-29.1,.21],[-2.4,-31.1,.15],[-1.3,-31.2,.2],[-.4,-31.3,.22],[.5,-31.1,.26],[1.5,-31.2,.22],[-1.8,-32.1,.2],[-.9,-32.4,.23],[.1,-32.3,.22],[1,-32.4,.26],[1.9,-32.3,.21],[-.6,-33.4,.24],[.2,-33.4,.22],[1.1,-33.3,.24],[-1.4,-34.5,.21],[-.1,-34.5,.22],[1,-34.7,.25],[-.2,-35.5,.26],[.8,-35.7,.22]];

const sparsePoints = [[-22,1.5,.05],[-21.6,1.1,.05],[-21.2,1.4,.05],[-22.2,.8,.05],[-19.9,.9,.12],[-19.2,1.1,.2],[-18.7,.9,.12],[-12.9,1.1,.06],[-11.4,-.9,.1],[-10.5,-1.5,.11],[-10,-2.6,.13],[-9.6,-2.4,.13],[-8.6,-2.9,.2],[-7.7,-2.4,.2],[-7.1,-2,.21],[-6,-.4,.07],[-5.4,.9,.07],[-6.3,3,.21],[-6,3.4,.2],[-5.8,2.4,.21],[-5.1,2.7,.21],[-4.4,3.2,.21],[-3.5,4.7,.13],[-2.8,6,.1],[-2.6,.9,.13],[-1.4,-1,.13],[-3.8,-.2,.17],[-2.7,-1.5,.2],[-6.8,-.9,.2],[-16,-7.2,.1],[-8.6,-5.3,.1],[-7.2,-5.3,.06],[-22.2,-8.4,.14],[-21.5,-8.9,.13],[-21,-8.9,.14],[-20.6,-8.7,.2],[-20.2,-8.2,.2],[-19.4,-6.5,.22],[-19.4,-7.5,.2],[-18.5,-7.7,.17],[-18.2,-9.2,.14],[-17.4,-9.4,.13],[-17,-10.2,.13],[-16.6,-9.5,.12],[-16.9,-11,.12],[-16.5,-11.6,.09],[-15.9,-8.7,.09],[-15.5,-9.7,.19],[-15.3,-11.1,.13],[-15.2,-7.3,.19],[-14.7,-7.8,.14],[-14.7,-10.2,.18],[-14.2,-11,.13],[-14,-9,.2],[-13.9,-10,.22],[-13.4,-11,.21],[-13.3,-9.2,.21],[-13.1,-10.6,.22],[-13.1,-12.5,.18],[-12.3,-11.4,.22],[-12.2,-12.6,.2],[-11.9,-8.7,.17],[-11.4,-8.9,.25],[-11.1,-7.6,.2],[-11.9,-11.2,.2],[-11.6,-12.4,.2],[-10.7,-12.6,.2],[-10.1,-13,.22],[-9.6,-18.6,.27],[-9.3,-18.5,.27],[-11.1,-20.4,.14],[-11,-19.2,.08],[-6.1,-21.5,.12],[-5.4,-22,.2],[-5.2,-21,.12],[-3.8,-20.7,.21],[-3,-21.4,.12],[-2.8,-22.5,.2],[-2.2,-24.4,.13],[-20,-25.1,.1],[-19.2,-24.5,.12],[-18.8,-26.8,.13],[-18.4,-24.4,.11],[-18.1,-27.2,.13],[-18,-25.7,.14],[-17.6,-24,.19],[-17.6,-27.7,.13],[-17.2,-25.3,.2],[-17.1,-26.6,.19],[-17,-27.6,.13],[-16.8,-24.3,.2],[-16.5,-23.5,.2],[-16.5,-27.7,.13],[-16,-23.5,.22],[-16.2,-24.9,.12],[-16.2,-26.1,.13],[-15.8,-27.6,.14],[-15.4,-24.2,.13],[-15.3,-25.2,.2],[-15.2,-22.7,.22],[-15.1,-26.4,.11],[-14.8,-27,.1],[-14.5,-23.4,.13],[-14.4,-24.8,.22],[-14,-22.3,.22],[-14.1,-25.6,.13],[-13.9,-23.9,.2],[-13.7,-28,.13],[-13.4,-25.4,.13],[-13.1,-22.9,.09],[-13,-24.5,.11],[-12.9,-22.1,.14],[-12.5,-24,.13],[-12.1,-25.3,.18],[-11.9,-22.6,.17],[-11.3,-22.7,.12],[-7,-18.8,.07],[-8.2,-16.5,.07],[-.5,-21,.2],[-1,-22.4,.18],[3.6,-23.1,.2]];

// pink specks that stand out of the mauve and pale regions
const pinkAccents = [[7.4,17.9,.21],[10.9,15.9,.2],[5.5,14.7,.21],[14.4,13.1,.2],[3.8,11.3,.22],[8.9,12.7,.19],[12.2,11.2,.2],[15.8,11.1,.22],[6.1,9.5,.2],[10.1,9.3,.21],[13.4,10.7,.22],[2.6,8.6,.2],[8.4,7.3,.22],[11.8,8.1,.2],[15,7.4,.21],[4.6,6,.22],[9.8,5.4,.2],[13,5.9,.24],[2,3.2,.2],[7.2,3.6,.21],[11,3.2,.22],[14.8,3.9,.2],[5.6,1.2,.21],[8.8,1.9,.2],[12.9,1.4,.21],[16.2,-1.4,.24],[7,-.9,.22],[10.4,-.2,.21],[1.6,-4.2,.2],[4.8,-4.2,.22],[8.2,-3.6,.21],[-.9,-6.3,.2],[3.6,-6.1,.19],[7.7,-7,.2],[-2.4,-8.4,.21],[2.6,-9.9,.2],[-4.9,-10.2,.2],[.2,-11.4,.22],[4.7,-12.6,.19],[-1.3,-14.3,.2],[3.2,-15.5,.21],[6,-16.9,.18],[1.5,-18.6,.2],[9.2,-3.6,.22]];

const scatterClusters = [leftCluster, topFill, topCluster, centerFill, centerCluster, paleFill, paleCluster, tailCluster, rightCluster, lowerRight, bottomCluster, sparsePoints, pinkAccents];

// ---- chart settings ----
const axisColor = '#666666';
const tickTextColor = '#9a9a9a';
const baseFont = 'Roboto, sans-serif';
const smallFont = '"DejaVu Sans", sans-serif';

function hexToRgb(hex) {
    return [parseInt(hex.substr(1, 2), 16), parseInt(hex.substr(3, 2), 16), parseInt(hex.substr(5, 2), 16)];
}

// Map a rate onto the colour bar stops
function rateColor(rate, alpha) {
    let i = 0;
    while (i < colorStops.length - 2 && rate > colorStops[i + 1]) i++;
    const t = Math.min(1, Math.max(0, (rate - colorStops[i]) / (colorStops[i + 1] - colorStops[i])));
    const a = hexToRgb(colorValues[i]);
    const b = hexToRgb(colorValues[i + 1]);
    const mix = a.map((v, k) => Math.round(v + (b[k] - v) * t));
    return `rgba(${mix[0]},${mix[1]},${mix[2]},${alpha})`;
}

function dashLabel(text) {
    return text + '\u2013';
}

function signed(v) {
    return String(v).replace('-', '\u2212');
}

// Fixed axis size, and no padding for overhanging tick labels
function fixAxis(scale, prop, size) {
    scale[prop] = size;
    scale.paddingTop = 0;
    scale.paddingBottom = 0;
    scale.paddingLeft = 0;
    scale.paddingRight = 0;
}

function drawScatter() {
    const points = [];
    scatterClusters.forEach(cluster => cluster.forEach(p => points.push({ x: p[0], y: p[1], r: p[2] })));

    new Chart(document.getElementById('scatter'), {
        type: 'scatter',
        data: {
            datasets: [{
                label: 'Replacement rate',
                data: points,
                pointRadius: 2.8,
                pointBorderWidth: 0,
                pointBackgroundColor: points.map(p => rateColor(p.r, 0.85))
            }]
        },
        options: {
            responsive: false,
            animation: false,
            layout: { autoPadding: false, padding: { top: 9 } },
            plugins: { legend: { display: false }, tooltip: { enabled: false } },
            scales: {
                x: {
                    type: 'linear', min: -44.4, max: 32.7,
                    afterFit: s => fixAxis(s, 'height', 49),
                    border: { color: axisColor, width: 2 },
                    grid: { drawOnChartArea: false, tickLength: 4, tickColor: axisColor },
                    ticks: { stepSize: 10, includeBounds: false, autoSkip: false, maxRotation: 0, padding: 5, color: tickTextColor, font: { family: baseFont, size: 9 }, callback: v => signed(v) },
                    title: { display: true, text: 't-SNE1', color: '#555', padding: 0, font: { family: baseFont, size: 15 } }
                },
                y: {
                    type: 'linear', min: -39.9, max: 32.3,
                    afterFit: s => fixAxis(s, 'width', 48),
                    border: { color: axisColor, width: 2 },
                    grid: { drawOnChartArea: false, drawTicks: false },
                    ticks: { stepSize: 10, includeBounds: false, autoSkip: false, padding: 7, color: tickTextColor, font: { family: baseFont, size: 9 }, callback: v => dashLabel(signed(v)) },
                    title: { display: true, text: 't-SNE2', color: '#555', padding: 0, font: { family: baseFont, size: 15 } }
                }
            }
        }
    });
}

function drawColorbar() {
    new Chart(document.getElementById('colorbar'), {
        type: 'bar',
        data: {
            labels: ['rate'],
            datasets: [{
                data: [[colorbarBottom, colorbarTop]],
                barPercentage: 1,
                categoryPercentage: 1,
                backgroundColor: ctx => {
                    const area = ctx.chart.chartArea;
                    if (!area) return colorValues[0];
                    const y = ctx.chart.scales.y;
                    const g = ctx.chart.ctx.createLinearGradient(0, y.getPixelForValue(colorbarBottom), 0, y.getPixelForValue(colorbarTop));
                    colorStops.forEach((s, i) => g.addColorStop((s - colorbarBottom) / (colorbarTop - colorbarBottom), colorValues[i]));
                    return g;
                }
            }]
        },
        options: {
            responsive: false,
            animation: false,
            layout: { autoPadding: false },
            plugins: { legend: { display: false }, tooltip: { enabled: false } },
            scales: {
                x: { display: false },
                y: {
                    position: 'right', min: colorbarBottom, max: colorbarTop,
                    afterFit: s => fixAxis(s, 'width', 47),
                    border: { display: false },
                    grid: { display: false },
                    ticks: { stepSize: 0.05, includeBounds: false, autoSkip: false, padding: 4, color: '#808080', font: { family: baseFont, size: 11 }, callback: v => String(Number(v.toFixed(2))) }
                }
            }
        }
    });
}

// One violin: filled outline, box, whisker, median, mean and outliers
function violinDatasets(i, ys, ws, q1, q3, median, mean, low, high, outliers) {
    const rgb = violinRgb[i];
    const right = ys.map((y, k) => ({ x: i + ws[k], y: y }));
    const left = ys.map((y, k) => ({ x: i - ws[k], y: y })).reverse();
    const boxW = 0.068;
    const common = { showLine: true, pointRadius: 0, label: categories[i] };
    return [
        Object.assign({}, common, { data: right.concat(left), fill: 'shape', tension: 0.35, backgroundColor: `rgba(${rgb},0.58)`, borderColor: `rgba(${rgb},0.5)`, borderWidth: 1 }),
        Object.assign({}, common, { data: [{ x: i - boxW, y: q1 }, { x: i + boxW, y: q1 }, { x: i + boxW, y: q3 }, { x: i - boxW, y: q3 }, { x: i - boxW, y: q1 }], fill: 'shape', backgroundColor: `rgba(${rgb},0.5)`, borderColor: `rgba(${rgb},0.55)`, borderWidth: 1 }),
        Object.assign({}, common, { data: [{ x: i, y: low }, { x: i, y: high }], borderColor: `rgba(${rgb},0.7)`, borderWidth: 1 }),
        Object.assign({}, common, { data: [{ x: i - boxW, y: median }, { x: i + boxW, y: median }], borderColor: `rgba(${rgb},0.8)`, borderWidth: 1 }),
        Object.assign({}, common, { data: [{ x: i - boxW, y: mean }, { x: i + boxW, y: mean }], borderColor: `rgba(${rgb},0.6)`, borderWidth: 1, borderDash: [2, 1] }),
        { label: categories[i], data: outliers.map(y => ({ x: i, y: y })), pointRadius: 1.4, pointBorderWidth: 0, pointBackgroundColor: `rgba(${rgb},0.6)` }
    ];
}

function drawViolin(canvasId, cfg) {
    let datasets = [];
    categories.forEach((c, i) => {
        datasets = datasets.concat(violinDatasets(i, cfg.ys[i], cfg.ws[i], cfg.q1[i], cfg.q3[i], cfg.median[i], cfg.mean[i], cfg.low[i], cfg.high[i], cfg.outliers[i]));
    });

    new Chart(document.getElementById(canvasId), {
        type: 'scatter',
        data: { datasets: datasets },
        options: {
            responsive: false,
            animation: false,
            layout: { autoPadding: false, padding: { top: cfg.top, right: 1 } },
            plugins: { legend: { display: false }, tooltip: { enabled: false } },
            scales: {
                x: {
                    type: 'linear', min: -0.435, max: cfg.xMax,
                    afterFit: s => fixAxis(s, 'height', cfg.bottom),
                    border: { color: axisColor, width: 2 },
                    grid: { drawOnChartArea: false, tickLength: 3, tickColor: axisColor },
                    ticks: { stepSize: 1, includeBounds: false, autoSkip: false, maxRotation: 0, padding: cfg.labelGap, color: '#8a8a8a', font: { family: smallFont, size: 7.2 }, callback: v => categories[v] },
                },
                y: {
                    type: 'linear', min: cfg.yMin, max: cfg.yMax,
                    afterFit: s => fixAxis(s, 'width', 42),
                    border: { color: axisColor, width: 2 },
                    grid: { drawOnChartArea: false, drawTicks: false },
                    ticks: { stepSize: cfg.step, includeBounds: false, autoSkip: false, padding: 5, color: tickTextColor, font: { family: baseFont, size: 10 }, callback: v => v <= cfg.topTick ? dashLabel(String(Number(v.toFixed(1)))) : '' },
                    title: { display: true, text: cfg.title, color: '#666', padding: 0, font: { family: baseFont, size: 12 } }
                }
            }
        }
    });
}

// HTML legend next to each violin chart
function addLegend(titleTop, firstRow) {
    const page = document.getElementById('page');
    const title = document.createElement('div');
    title.className = 'label legend-title';
    title.style.left = '1146px';
    title.style.top = titleTop + 'px';
    title.textContent = 'Legend Title';
    page.appendChild(title);
    categories.forEach((c, i) => {
        const y = firstRow + i * 17;
        const box = document.createElement('div');
        box.className = 'legend-box';
        box.style.left = '1148px';
        box.style.top = (y - 4) + 'px';
        box.style.background = legendFill[i];
        box.style.borderColor = legendStroke[i];
        page.appendChild(box);
        const text = document.createElement('div');
        text.className = 'label legend-text';
        text.style.left = '1163px';
        text.style.top = (y - 5) + 'px';
        text.textContent = c;
        page.appendChild(text);
    });
}

document.addEventListener('DOMContentLoaded', () => {
    drawScatter();
    drawColorbar();
    drawViolin('geneViolin', {
        ys: geneViolinY, ws: geneViolinW, q1: geneQ1, q3: geneQ3, median: geneMedian, mean: geneMean,
        low: geneWhiskerLow, high: geneWhiskerHigh, outliers: geneOutliers,
        top: 8, bottom: 17, labelGap: 5, xMax: 6.57, yMin: -0.189, yMax: 1.335, step: 0.2, topTick: 1,
        title: 'Fraction new RNA (per gene)'
    });
    drawViolin('cellViolin', {
        ys: cellViolinY, ws: cellViolinW, q1: cellQ1, q3: cellQ3, median: cellMedian, mean: cellMean,
        low: cellWhiskerLow, high: cellWhiskerHigh, outliers: cellOutliers,
        top: 6, bottom: 22, labelGap: 8, xMax: 6.55, yMin: -0.0655, yMax: 0.52, step: 0.1, topTick: 0.4,
        title: 'Fraction new RNA (per cell)'
    });
    addLegend(92, 127);
    addLegend(358, 392);
});
</script>
</body>
</html>
